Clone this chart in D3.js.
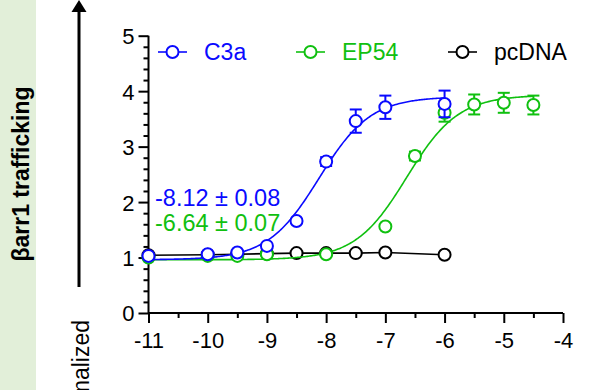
<!DOCTYPE html>
<html>
<head>
<meta charset="utf-8">
<script src="https://cdn.jsdelivr.net/npm/d3@7"></script>
<style>
  body { margin: 0; background: #fff; }
  svg { display: block; font-family: "Liberation Sans", Arial, sans-serif; }
</style>
</head>
<body>
<div id="chart"></div>
<script>
// log [agonist] (M)
const c3aX = [-11, -10, -9.5, -9, -8.5, -8, -7.5, -7, -6];
const c3aY = [1.03, 1.06, 1.09, 1.21, 1.66, 2.73, 3.46, 3.71, 3.77];
const c3aErr = [0, 0, 0, 0, 0, 0.08, 0.21, 0.21, 0.24];

const ep54X = [-11, -10, -9.5, -9, -8, -7, -6.5, -6, -5.5, -5, -4.5];
const ep54Y = [1.0, 1.03, 1.03, 1.06, 1.06, 1.56, 2.83, 3.61, 3.76, 3.79, 3.75];
const ep54Err = [0, 0, 0, 0, 0, 0, 0.08, 0.16, 0.18, 0.18, 0.17];

const pcX = [-11, -10, -9.5, -9, -8.5, -8, -7.5, -7, -6];
const pcY = [1.04, 1.05, 1.06, 1.07, 1.08, 1.08, 1.08, 1.09, 1.05];

// fitted curve parameters (bottom, top, logEC50, hill)
const c3aFit = { bottom: 0.96, top: 3.9, logEC50: -8.12, hill: 1 };
const ep54Fit = { bottom: 0.96, top: 3.93, logEC50: -6.64, hill: 1 };

const legendLabels = ['C3a', 'EP54', 'pcDNA'];
const ec50Labels = ['-8.12 ± 0.08', '-6.64 ± 0.07'];
const xTicks = [-11, -10, -9, -8, -7, -6, -5, -4];
const yTicks = [0, 1, 2, 3, 4, 5];

const BLUE = '#0a0aff', GREEN = '#10c010', BLACK = '#000';

const W = 589, H = 390;
const svg = d3.select('#chart').append('svg').attr('width', W).attr('height', H);

// side panel + arrow
svg.append('rect').attr('x', 0).attr('y', 0).attr('width', 36).attr('height', H).attr('fill', '#e2efd9');
svg.append('text')
  .attr('transform', 'translate(28.5,174) rotate(-90)')
  .attr('text-anchor', 'middle')
  .attr('font-weight', 'bold')
  .attr('font-size', 23)
  .text('βarr1 trafficking');

svg.append('line').attr('x1', 79).attr('x2', 79).attr('y1', 10).attr('y2', 287)
  .attr('stroke', '#000').attr('stroke-width', 3);
svg.append('path').attr('d', 'M79,0 L71.5,12 L86.5,12 Z').attr('fill', '#000');
svg.append('text')
  .attr('transform', 'translate(88.5,320) rotate(-90)')
  .attr('text-anchor', 'end')
  .attr('font-size', 23)
  .text('Normalized');

const x = d3.scaleLinear().domain([-11, -4]).range([148.5, 563]);
const y = d3.scaleLinear().domain([0, 5]).range([313, 35.7]);

// axes
const xAxis = svg.append('g').attr('transform', `translate(0,${y(0)})`);
xAxis.call(d3.axisBottom(x).tickValues(d3.range(-11, -3.9, 0.5)).tickSize(5).tickFormat(''));
xAxis.selectAll('.tick').filter(d => Number.isInteger(d)).select('line').attr('y2', 10);
xAxis.selectAll('.tick').filter(d => xTicks.includes(d)).append('text')
  .attr('y', 35).attr('fill', '#000').attr('font-size', 22).attr('text-anchor', 'middle')
  .text(d => d);
xAxis.select('.domain').attr('d', `M${x(-11)},0H${x(-4)}`);

const yAxis = svg.append('g').attr('transform', `translate(${x(-11)},0)`);
yAxis.call(d3.axisLeft(y).tickValues(d3.range(0, 5.01, 0.2)).tickSize(5).tickFormat(''));
yAxis.selectAll('.tick').filter(d => Math.abs(d - Math.round(d)) < 1e-6).select('line').attr('x2', -10);
yAxis.selectAll('.tick').filter(d => yTicks.some(t => Math.abs(d - t) < 1e-6)).append('text')
  .attr('x', -14).attr('dy', '0.36em').attr('fill', '#000').attr('font-size', 22).attr('text-anchor', 'end')
  .text(d => Math.round(d));
yAxis.select('.domain').attr('d', `M0,${y(0)}V${y(5)}`);
svg.selectAll('.domain, .tick line').attr('stroke', '#000').attr('stroke-width', 2);

// curves
const fit = p => v => p.bottom + (p.top - p.bottom) / (1 + Math.pow(10, (p.logEC50 - v) * p.hill));
const line = d3.line().x(d => x(d[0])).y(d => y(d[1]));
const curvePts = (p, x0, x1) => d3.range(x0, x1 + 0.001, 0.02).map(v => [v, fit(p)(v)]);

function drawSeries(xs, ys, errs, color, pathData) {
  const g = svg.append('g');
  g.append('path').attr('d', line(pathData)).attr('fill', 'none')
    .attr('stroke', color).attr('stroke-width', 1.6);
  const pts = xs.map((v, i) => ({ x: v, y: ys[i], e: errs ? errs[i] : 0 }));
  const eb = g.selectAll('.eb').data(pts.filter(d => d.e > 0)).enter().append('g')
    .attr('stroke', color).attr('stroke-width', 2);
  eb.append('line').attr('x1', d => x(d.x)).attr('x2', d => x(d.x))
    .attr('y1', d => y(d.y - d.e)).attr('y2', d => y(d.y + d.e));
  eb.append('line').attr('x1', d => x(d.x) - 6).attr('x2', d => x(d.x) + 6)
    .attr('y1', d => y(d.y + d.e)).attr('y2', d => y(d.y + d.e));
  eb.append('line').attr('x1', d => x(d.x) - 6).attr('x2', d => x(d.x) + 6)
    .attr('y1', d => y(d.y - d.e)).attr('y2', d => y(d.y - d.e));
  g.selectAll('circle').data(pts).enter().append('circle')
    .attr('cx', d => x(d.x)).attr('cy', d => y(d.y)).attr('r', 6)
    .attr('fill', '#fff').attr('stroke', color).attr('stroke-width', 2);
}

drawSeries(pcX, pcY, null, BLACK, pcX.map((v, i) => [v, pcY[i]]));
drawSeries(ep54X, ep54Y, ep54Err, GREEN, curvePts(ep54Fit, -11, -4.5));
drawSeries(c3aX, c3aY, c3aErr, BLUE, curvePts(c3aFit, -11, -6));

// legend
const legendX = [158, 296, 448];
const legendColors = [BLUE, GREEN, BLACK];
legendLabels.forEach((t, i) => {
  const g = svg.append('g').attr('transform', `translate(${legendX[i]},52)`);
  g.append('line').attr('x1', 0).attr('x2', 29).attr('stroke', legendColors[i]).attr('stroke-width', 1.6);
  g.append('circle').attr('cx', 14.5).attr('r', 6).attr('fill', '#fff')
    .attr('stroke', legendColors[i]).attr('stroke-width', 2);
  g.append('text').attr('x', 46).attr('y', 8).attr('font-size', 23)
    .attr('fill', legendColors[i]).text(t);
});

// EC50 annotations
ec50Labels.forEach((t, i) => {
  svg.append('text').attr('x', 155).attr('y', 206 + i * 25).attr('font-size', 23.5)
    .attr('fill', i === 0 ? BLUE : GREEN).text(t);
});
</script>
</body>
</html>
